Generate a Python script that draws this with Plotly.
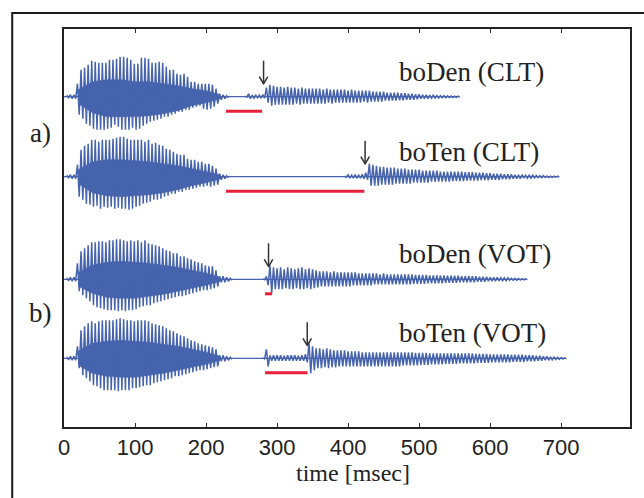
import plotly.graph_objects as go

# ---------------- data ----------------
FRAME_MS = 5      # one pitch-period frame (max / min per frame)
CORE_MS = 20      # sampling of the dense inner core of the vowel

labels = ["boDen (CLT)", "boTen (CLT)", "boDen (VOT)", "boTen (VOT)"]
track_end_ms = [556, 696, 651, 706]

# first vowel /bo/ : per-frame peak above / trough below baseline, from 4 ms
v1_start_ms = [4, 4, 4, 4]
t1_v1_top = [1.5, 2, 2, 13, 27, 29, 32, 36, 35, 34, 34, 34, 37, 37, 38, 40, 40, 39, 37, 33, 33,
             39, 39, 38, 34, 34, 35, 34, 30, 27, 27, 23, 22, 23, 20, 15, 15, 13, 13, 13, 13,
             12, 8, 3, 2, 1]
t1_v1_bot = [1.5, 2, 2, 18, 22, 27, 29, 32, 33, 33, 33, 32, 31, 28, 30, 33, 33, 33, 31, 33, 32,
             29, 27, 25, 24, 23, 22, 20, 20, 18, 17, 15, 15, 13, 13, 11, 10, 9, 12, 13, 12,
             10, 7, 3, 2, 1]
t2_v1_top = [1.5, 2, 2, 12, 27, 31, 33, 37, 37, 35, 37, 37, 37, 38, 39, 40, 40, 38, 37, 37, 37,
             37, 35, 37, 33, 34, 32, 31, 28, 27, 25, 23, 22, 22, 18, 17, 17, 15, 15, 13, 13,
             11, 8, 3, 2, 1]
t2_v1_bot = [1.5, 2, 2, 20, 23, 27, 28, 30, 29, 32, 30, 31, 30, 32, 31, 32, 32, 33, 32, 30, 29,
             27, 26, 25, 23, 23, 22, 20, 19, 17, 17, 15, 15, 13, 13, 12, 11, 10, 10, 9, 10,
             9, 8, 3, 2, 1]
t3_v1_top = [1.5, 2, 2, 16, 28, 31, 34, 37, 37, 38, 38, 37, 39, 39, 40, 40, 39, 38, 39, 38, 39,
             37, 39, 36, 35, 34, 33, 31, 29, 28, 26, 26, 23, 23, 21, 20, 18, 17, 16, 14, 13,
             13, 9, 3, 3, 2, 1]
t3_v1_bot = [1.5, 2, 2, 12, 16, 19, 22, 26, 28, 29, 30, 31, 31, 31, 32, 31, 32, 31, 31, 30, 28,
             27, 26, 26, 24, 23, 22, 21, 20, 19, 18, 17, 17, 16, 15, 14, 13, 12, 11, 11, 10,
             9, 7, 3, 3, 2, 1]
t4_v1_top = [1.5, 2, 2, 12, 28, 32, 35, 37, 35, 37, 38, 38, 38, 38, 39, 40, 39, 38, 38, 37, 38,
             38, 38, 37, 35, 34, 33, 32, 30, 28, 27, 25, 23, 22, 20, 18, 17, 15, 14, 13, 12,
             11, 9, 3, 3, 2, 1]
t4_v1_bot = [1.5, 2, 2, 10, 17, 20, 23, 27, 28, 30, 32, 32, 32, 32, 33, 32, 32, 32, 30, 30, 29,
             28, 27, 27, 25, 24, 23, 22, 21, 20, 18, 18, 17, 16, 15, 14, 13, 12, 12, 11, 10,
             9, 8, 3, 3, 2, 1]

# dense inner core of the first vowel, sampled from 20 ms every 20 ms
core_start_ms = 20
t1_core_top = [7, 15, 17, 17, 15, 15, 13, 11, 8, 6, 2]
t1_core_bot = [7, 16, 20, 20, 20, 19, 17, 14, 9, 6, 2]
t2_core_top = [7, 15, 17, 17, 16, 15, 13, 11, 8, 5, 2]
t2_core_bot = [7, 16, 19, 20, 19, 18, 16, 13, 9, 6, 2]
t3_core_top = [7, 14, 17, 18, 17, 16, 14, 12, 9, 6, 2]
t3_core_bot = [7, 14, 18, 19, 19, 17, 15, 12, 9, 6, 2]
t4_core_top = [7, 15, 17, 18, 17, 16, 14, 12, 9, 6, 2]
t4_core_bot = [7, 15, 18, 19, 19, 17, 15, 12, 9, 6, 2]

# release burst + second vowel /en/
v2_start_ms = [255, 395, 280, 280]
t1_v2_top = [0.5, 3, 1.5, 1.5, 1.5, 2, 9, 12, 11, 10, 10, 9, 10, 9, 9, 8, 9, 8, 8, 8, 8, 8, 7, 8,
             7, 7, 7, 7, 7, 6, 7, 6, 6, 6, 6, 6, 5, 5, 5, 5, 4, 4, 4, 4, 3.5, 3.5, 3, 3, 2.5,
             2.5, 2, 2, 1.5, 1.5, 1.2, 1, 1, 0.8, 0.8, 0.6, 0.5]
t1_v2_bot = [0.5, 2, 1.5, 1, 1.5, 1.5, 6, 9, 8, 8, 8, 8, 8, 8, 7, 8, 7, 7, 7, 7, 7, 7, 7, 6,
             7, 6, 6, 6, 6, 6, 6, 6, 6, 5, 6, 5, 5, 5, 5, 4, 4, 4, 4, 3.5, 3.5, 3, 3, 3, 2.5,
             2, 2, 2, 1.5, 1.5, 1.2, 1, 1, 0.8, 0.8, 0.6, 0.5]
t2_v2_top = [0.5, 2, 1.5, 2, 1.5, 2.5, 4, 13, 12, 11, 10, 10, 9, 9, 9, 8, 8, 8, 7, 7, 7, 7, 6,
             6, 6, 6, 6, 5, 5, 5, 5, 5, 5, 5, 4.5, 4.5, 4.5, 4, 4, 4, 3.5, 3.5, 3, 3, 3, 2.5,
             2.5, 2.5, 2, 2, 2, 1.5, 1.5, 1.5, 1.2, 1, 1, 0.8, 0.6, 0.5, 0.5]
t2_v2_bot = [0.5, 1.5, 1.5, 1.5, 1.5, 2, 3, 9, 9, 9, 8, 8, 8, 8, 7, 7, 7, 7, 7, 6, 6, 6, 6, 6,
             5, 5, 5, 5, 5, 5, 4.5, 4.5, 4.5, 4.5, 4, 4, 4, 4, 3.5, 3.5, 3.5, 3, 3, 3, 2.5,
             2.5, 2.5, 2, 2, 2, 1.5, 1.5, 1.5, 1.2, 1, 1, 0.8, 0.8, 0.6, 0.5, 0.5]
t3_v2_top = [0.5, 3, 14, 12, 11, 12, 10, 12, 11, 10, 11, 12, 10, 11, 10, 9, 8, 8, 8, 7, 8, 7, 7,
             7, 7, 7, 7, 6, 6, 6, 6, 6, 6, 5, 6, 5, 5, 5, 5, 5, 5, 5, 5, 4.5, 4.5, 4.5, 4.5,
             4, 4, 4, 4, 4, 3.5, 3.5, 3.5, 3.5, 3, 3, 3, 3, 3, 2.5, 2.5, 2.5, 2, 2, 2, 1.5,
             1.5, 1.5, 1, 1, 0.8, 0.6, 0.5]
t3_v2_bot = [0.5, 6, 14, 10, 10, 10, 9, 10, 10, 9, 10, 10, 9, 10, 9, 8, 7, 7, 7, 7, 7, 7, 7, 7,
             7, 6, 6, 6, 6, 6, 6, 5, 5, 5, 5, 5, 5, 5, 5, 5, 5, 5, 4.5, 4.5, 4.5, 4.5, 4, 4,
             4, 4, 4, 3.5, 3.5, 3.5, 3.5, 3, 3, 3, 3, 3, 2.5, 2.5, 2.5, 2, 2, 2, 1.5, 1.5,
             1.5, 1, 1, 1, 0.8, 0.6, 0.5]
t4_v2_top = [0.5, 9, 3, 3, 3, 3, 2.5, 3, 3, 3, 2.5, 3, 4, 15, 12, 10, 10, 9, 10, 9, 8, 8, 8, 8,
             7, 7, 7, 7, 6, 6, 6, 6, 6, 6, 6, 6, 6, 6, 6, 6, 6, 6, 6, 5.5, 5.5, 5.5, 5.5, 5,
             5, 5, 5, 5, 5, 5, 5, 5, 5, 5, 5, 5, 4.5, 4.5, 4.5, 4.5, 4, 4, 4, 4, 4, 4, 3.5,
             3.5, 3.5, 3.5, 3, 3, 3, 2.5, 2.5, 2, 2, 1.5, 1.2, 1, 0.8, 0.5]
t4_v2_bot = [0.5, 8, 2.5, 2.5, 2.5, 2.5, 2.5, 2.5, 2.5, 2.5, 2.5, 2.5, 4, 15, 12, 10, 10, 9, 10,
             9, 9, 8, 8, 8, 8, 8, 8, 8, 8, 8, 8, 8, 8, 8, 8, 8, 8, 8, 8, 7, 7, 7, 7, 7, 6.5,
             6.5, 6.5, 6, 6, 6, 6, 5.5, 5.5, 5.5, 5.5, 5, 5, 5, 5, 5, 4.5, 4.5, 4.5, 4.5, 4,
             4, 4, 4, 4, 4, 3.5, 3.5, 3.5, 3.5, 3, 3, 3, 2.5, 2.5, 2, 2, 1.5, 1.2, 1, 0.8, 0.5]

# closure (CLT) / voice-onset (VOT) intervals, ms  (red bars)
interval_start_ms = [228, 228, 283, 283]
interval_end_ms = [279, 423, 293, 343]
# release / voicing-onset markers, ms  (arrows)
marker_ms = [281, 424, 288, 342.5]

x_tick_vals = [0, 100, 200, 300, 400, 500, 600, 700]
x_tick_text = ["0", "100", "200", "300", "400", "500", "600", "700"]

v1_top = [t1_v1_top, t2_v1_top, t3_v1_top, t4_v1_top]
v1_bot = [t1_v1_bot, t2_v1_bot, t3_v1_bot, t4_v1_bot]
core_top = [t1_core_top, t2_core_top, t3_core_top, t4_core_top]
core_bot = [t1_core_bot, t2_core_bot, t3_core_bot, t4_core_bot]
v2_top = [t1_v2_top, t2_v2_top, t3_v2_top, t4_v2_top]
v2_bot = [t1_v2_bot, t2_v2_bot, t3_v2_bot, t4_v2_bot]
for a, b in zip(v1_top + core_top + v2_top, v1_bot + core_bot + v2_bot):
    assert len(a) == len(b), (len(a), len(b))

# ---------------- layout / style ----------------
BASE = [330.3, 250.3, 147.7, 68.7]     # vertical offset of each trace
WAVE = "#4663ad"
RED = "#e8203a"
INK = "#222222"
SERIF = "Liberation Serif, Times New Roman, serif"
SANS = "Liberation Sans, Arial, sans-serif"

fig = go.Figure()


def frames_to_trace(start, top, bot, base):
    """max of each frame at its start, min half a frame later (min/max waveform view)"""
    xs, ys = [], []
    for i, (a, b) in enumerate(zip(top, bot)):
        t = start + i * FRAME_MS
        xs += [t, t + FRAME_MS / 2]
        ys += [base + a, base - b]
    return xs, ys


for k in range(4):
    b = BASE[k]
    # baseline
    fig.add_trace(go.Scatter(x=[0, track_end_ms[k]], y=[b, b], mode="lines",
                             line=dict(color=WAVE, width=1.2), hoverinfo="skip"))
    # inner core of vowel
    ct = [core_start_ms + i * CORE_MS for i in range(len(core_top[k]))]
    px = ct + ct[::-1]
    py = [b + v for v in core_top[k]] + [b - v for v in core_bot[k][::-1]]
    fig.add_trace(go.Scatter(x=px, y=py, mode="lines", fill="toself", fillcolor=WAVE,
                             line=dict(color=WAVE, width=0.5), hoverinfo="skip"))
    # waveform oscillation
    for start, top, bot in ((v1_start_ms[k], v1_top[k], v1_bot[k]),
                            (v2_start_ms[k], v2_top[k], v2_bot[k])):
        xs, ys = frames_to_trace(start, top, bot, b)
        fig.add_trace(go.Scatter(x=xs, y=ys, mode="lines",
                                 line=dict(color=WAVE, width=1.5), hoverinfo="skip"))
    # red interval bar
    fig.add_trace(go.Scatter(x=[interval_start_ms[k], interval_end_ms[k]], y=[b - 14.5, b - 14.5],
                             mode="lines", line=dict(color=RED, width=3), hoverinfo="skip"))
    # arrow marker
    m = marker_ms[k]
    fig.add_shape(type="line", x0=m, x1=m, y0=b + 36, y1=b + 13,
                  line=dict(color="#333333", width=1.5))
    fig.add_shape(type="path", path=f"M {m-6},{b+20} Q {m-2},{b+15} {m},{b+13} Q {m+2},{b+15} {m+6},{b+20}",
                  line=dict(color="#333333", width=1.5))
    # label
    fig.add_annotation(x=469, y=b + 25, text=labels[k], showarrow=False, xanchor="left",
                       yanchor="middle", font=dict(family=SERIF, size=27, color=INK))

# group labels
fig.add_annotation(xref="paper", yref="paper", x=-0.0413, y=0.7387, text="a)", showarrow=False,
                   xanchor="center", yanchor="middle", font=dict(family=SERIF, size=27, color=INK))
fig.add_annotation(xref="paper", yref="paper", x=-0.0413, y=0.2864, text="b)", showarrow=False,
                   xanchor="center", yanchor="middle", font=dict(family=SERIF, size=27, color=INK))
# axis title
fig.add_annotation(xref="paper", yref="paper", x=0.5106, y=-0.115, text="time [msec]",
                   showarrow=False, xanchor="center", yanchor="middle",
                   font=dict(family=SERIF, size=24, color=INK))

# outer frame
fig.add_shape(type="rect", xref="paper", yref="paper", x0=-0.0915, x1=1.5, y0=-1.0, y1=1.0402,
              line=dict(color="#1a1a1a", width=2))

fig.update_layout(
    width=644, height=498,
    margin=dict(l=64, r=12, t=29, b=71),
    paper_bgcolor="white", plot_bgcolor="white",
    showlegend=False,
    xaxis=dict(range=[0, 797], tickvals=x_tick_vals, ticktext=x_tick_text,
               ticks="inside", ticklen=4, tickwidth=1, tickcolor="#333333",
               showline=True, linecolor=INK, linewidth=1.5, mirror="ticks",
               showgrid=False, zeroline=False,
               tickfont=dict(family=SANS, size=22, color=INK)),
    yaxis=dict(range=[0, 398], showticklabels=False, ticks="",
               showline=True, linecolor=INK, linewidth=1.5, mirror=True,
               showgrid=False, zeroline=False),
)

fig.write_html("out.html", config={"displayModeBar": False},
               post_script="document.body.style.margin='0px';")
